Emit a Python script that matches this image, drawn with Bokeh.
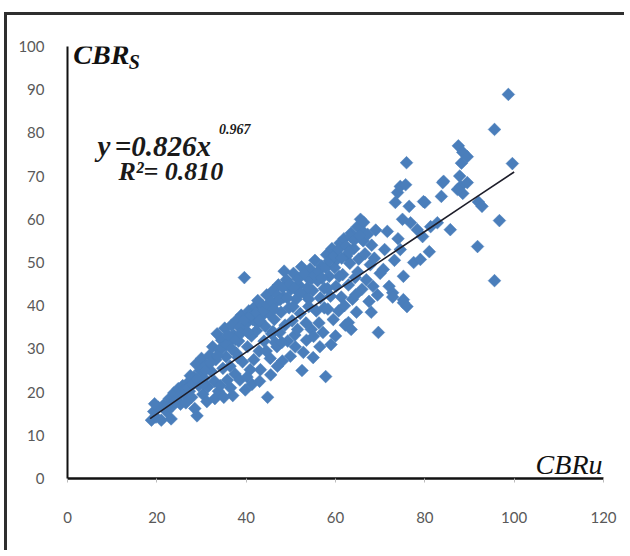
import numpy as np
from bokeh.plotting import figure
from bokeh.models import Label, FixedTicker, ColumnDataSource
from bokeh.embed import file_html
from bokeh.resources import INLINE

# ---- data ----
cbr_u = [
    18.8, 19.3, 19.8, 20.3, 21.0, 21.5, 22.2, 19.5,
    22.8, 23.5, 23.8, 24.5, 24.8, 25.3, 25.8, 26.2, 23.2, 26.5,
    26.8, 27.3, 27.8, 28.3, 28.8, 29.0, 29.4, 29.7, 30.0, 30.3, 28.5, 27.5,
    30.6, 31.0, 31.4, 31.8, 32.2, 32.5, 32.9, 33.2, 33.5, 33.8, 34.0, 34.2, 31.2, 33.0,
    34.5, 34.8, 35.2, 35.5, 35.8, 36.1, 36.4, 36.7, 37.0, 37.2, 37.5, 37.8, 38.0, 35.0, 36.5,
    38.3, 38.6, 38.9, 39.2, 39.4, 39.6, 39.8, 40.0, 40.3, 40.6, 40.9, 41.2, 41.5, 41.7, 42.0, 38.5, 40.2, 41.3,
    42.3, 42.6, 42.9, 43.2, 43.4, 43.7, 44.0, 44.3, 44.6, 44.8, 45.1, 45.4, 45.7, 46.0, 43.0, 45.5, 42.5,
    46.3, 46.6, 46.9, 47.2, 47.5, 47.8, 48.1, 48.4, 48.7, 49.0, 49.3, 49.6, 49.9, 50.0, 47.0, 48.5, 46.5,
    50.3, 50.6, 50.9, 51.2, 51.5, 51.8, 52.1, 52.4, 52.8, 53.1, 53.4, 53.7, 54.0, 51.0, 52.5, 53.5,
    54.3, 54.6, 54.9, 55.1, 55.4, 55.7, 56.0, 56.3, 56.6, 56.9, 57.2, 57.5, 57.8, 58.0, 55.0, 56.5, 57.5,
    58.3, 58.6, 58.9, 59.2, 59.5, 59.8, 60.1, 60.4, 60.7, 61.0, 61.3, 61.6, 61.9, 62.2, 62.5, 60.0, 59.0,
    62.9, 62.9, 63.2, 63.5, 63.8, 64.1, 64.4, 64.7, 64.9, 65.2, 65.6, 65.9, 66.2, 63.5, 66.3, 65.0,
    66.6, 66.9, 67.2, 67.5, 67.8, 68.1, 68.4, 68.7, 69.0, 69.6, 69.4, 70.0, 70.7, 68.0,
    71.6, 71.0, 72.0, 72.8, 72.8, 73.2, 73.9, 74.5, 74.5, 75.0, 75.2, 75.2, 75.2, 75.7, 75.9, 76.0,
    76.8, 77.5, 74.0, 76.5,
    78.3, 79.0, 80.0, 81.3, 82.8, 83.7, 84.2, 85.7, 79.5, 81.0,
    87.5, 88.5, 89.5, 88.2, 87.8, 88.0, 88.5, 89.5, 92.0, 92.8, 91.8, 95.6, 98.7, 99.6, 96.7, 95.6,
    73.4, 79.7, 84.0, 87.3, 66.3, 63.4,
    30.8, 32.0, 33.6, 34.6, 35.6, 36.8, 37.6, 38.8, 39.6, 40.4, 41.0, 42.2, 43.0, 43.9, 44.8, 45.6,
    46.2, 47.0, 47.6, 48.2, 49.2, 49.8, 50.8, 51.6, 52.2, 53.0, 53.8, 54.6, 55.2, 56.2, 57.0, 57.8,
    58.6, 59.6, 60.6, 61.4, 62.4, 63.0, 64.2, 65.4, 36.0, 38.2, 44.5, 50.5, 54.0, 58.2, 60.8, 62.0,
    64.5, 46.0, 48.0,
    21.8, 22.5, 24.0, 25.0, 26.0, 27.0, 28.0, 29.0, 30.5,
]
cbr_s = [
    13.5, 15.5, 14.2, 16.5, 13.5, 17.0, 15.5, 17.3,
    18.5, 16.8, 19.8, 18.2, 20.8, 17.2, 21.5, 19.5, 13.8, 17.5,
    22.0, 20.2, 18.8, 23.5, 26.5, 14.5, 21.5, 25.0, 27.8, 19.5, 16.2, 23.8,
    23.2, 26.2, 21.2, 28.5, 24.8, 30.5, 22.5, 27.5, 33.5, 20.2, 29.8, 21.5, 17.8, 18.5,
    32.0, 25.5, 34.8, 28.2, 22.8, 31.5, 26.0, 35.5, 19.2, 33.2, 24.2, 29.0, 36.8, 18.8, 21.0,
    31.8, 22.8, 37.8, 27.0, 34.5, 46.5, 20.5, 35.8, 30.5, 38.8, 25.2, 33.0, 36.8, 27.5, 39.8, 35.0, 23.5, 21.8,
    34.2, 41.2, 29.5, 25.2, 37.5, 40.0, 31.8, 35.2, 42.5, 18.8, 38.2, 27.8, 33.5, 43.5, 22.5, 24.0, 36.0,
    36.8, 40.8, 30.5, 44.8, 33.8, 38.5, 27.2, 42.0, 35.5, 46.0, 31.8, 39.5, 28.3, 43.8, 26.0, 48.0, 31.5,
    36.5, 47.5, 33.2, 41.5, 34.5, 44.8, 38.2, 49.0, 29.2, 42.8, 36.0, 46.5, 39.8, 30.5, 25.0, 32.0,
    48.5, 34.5, 43.5, 32.9, 50.5, 38.8, 45.8, 36.0, 41.8, 49.2, 33.8, 44.0, 23.6, 51.8, 28.0, 30.5, 39.5,
    39.2, 46.8, 42.2, 53.2, 36.8, 48.8, 44.5, 50.8, 38.8, 54.5, 42.0, 47.2, 55.5, 35.5, 51.5, 33.0, 31.0,
    36.1, 44.8, 49.8, 56.8, 41.5, 53.2, 46.5, 38.5, 58.3, 50.8, 60.0, 43.8, 55.0, 34.5, 57.0, 47.8,
    52.0, 46.0, 56.5, 41.0, 49.5, 54.0, 44.5, 51.0, 57.5, 33.8, 42.5, 47.5, 48.4, 38.5,
    57.2, 53.0, 44.5, 43.0, 42.0, 50.5, 66.2, 67.6, 53.0, 60.0, 46.8, 41.4, 40.7, 68.0, 73.1, 39.8,
    59.2, 50.0, 55.5, 63.0,
    57.6, 50.7, 63.9, 58.3, 59.2, 65.3, 68.8, 57.6, 56.0, 52.5,
    77.0, 75.5, 74.5, 73.0, 70.0, 67.6, 66.0, 68.5, 64.0, 63.0, 53.7, 80.8, 88.9, 72.9, 59.7, 45.8,
    63.9, 64.1, 68.5, 66.9, 59.3, 56.0,
    25.0, 26.8, 28.5, 30.2, 31.0, 30.0, 32.2, 33.6, 36.8, 33.8, 37.8, 38.4, 36.6, 38.8, 40.2, 41.0,
    39.2, 42.4, 41.4, 44.2, 41.8, 45.0, 44.0, 46.2, 43.0, 47.4, 44.2, 46.2, 47.0, 48.0, 46.4, 48.8,
    50.4, 51.5, 53.0, 51.0, 53.8, 52.4, 55.2, 56.2, 33.2, 28.0, 29.5, 39.8, 41.5, 44.0, 46.8, 40.0,
    42.5, 34.0, 31.5,
    16.2, 17.0, 17.8, 19.2, 20.5, 21.0, 21.8, 23.0, 22.0,
]
x_ticks = [0, 20, 40, 60, 80, 100, 120]
y_ticks = [0, 10, 20, 30, 40, 50, 60, 70, 80, 90, 100]
trend_a = 0.826
trend_b = 0.967
trend_x = [18.5, 30, 40, 50, 60, 70, 80, 90, 100]
trend_y = [trend_a * xv ** trend_b for xv in trend_x]

BLUE = "#4A7EBB"

p = figure(width=620, height=538, x_range=(0, 120), y_range=(0, 100),
           output_backend="svg", toolbar_location=None,
           min_border_left=60, min_border_right=24, min_border_top=31, min_border_bottom=75)
p.background_fill_color = "white"
p.border_fill_color = "white"
p.outline_line_color = None
p.grid.visible = False
p.styles = {"border-top": "3px solid #2e2e2e", "border-left": "3px solid #2e2e2e",
            "margin-left": "4px", "margin-top": "12px"}

# axes
p.xaxis.ticker = FixedTicker(ticks=x_ticks)
p.yaxis.ticker = FixedTicker(ticks=y_ticks)
for ax in (p.xaxis[0], p.yaxis[0]):
    ax.axis_line_color = "#111111"
    ax.major_label_text_font = "Lato"
    ax.major_label_text_font_size = "15px"
    ax.major_label_text_color = "#595959"
    ax.minor_tick_line_color = None
p.xaxis.axis_line_width = 2.5
p.yaxis.axis_line_width = 2
p.xaxis.major_tick_line_color = "#bbbbbb"
p.xaxis.major_tick_out = 4
p.xaxis.major_tick_in = 0
p.xaxis.major_label_standoff = 29
p.yaxis.major_tick_line_color = None
p.yaxis.major_label_standoff = 17

src = ColumnDataSource(dict(x=cbr_u, y=cbr_s))
p.scatter("x", "y", source=src, marker="square", angle=np.pi / 4, size=9,
          fill_color=BLUE, line_color=BLUE, line_width=0.5)
p.line(trend_x, trend_y, line_color="#1e1e2a", line_width=1.6)

serif = "Liberation Serif"


def lab(x, y, text, size, style="bold italic", color="#1a1a1a"):
    p.add_layout(Label(x=x, y=y, text=text, text_font=serif, text_font_style=style,
                       text_font_size=size, text_color=color, text_baseline="alphabetic"))


lab(1.3, 98.1, "CBR", "28px", color="#111111")
lab(13.7, 96.5, "S", "20px", color="#111111")
# equation pieces
lab(6.7, 76.9, "y", "29px")
lab(10.6, 76.9, "=", "29px")
lab(14.3, 76.9, "0.826x", "29px")
lab(33.9, 80.8, "0.967", "14px")
lab(11.4, 71.1, "R²= 0.810", "26px")
lab(104.8, 3.2, "CBRu", "28px", style="italic", color="#111111")

open("out.html", "w").write(file_html(p, INLINE))
